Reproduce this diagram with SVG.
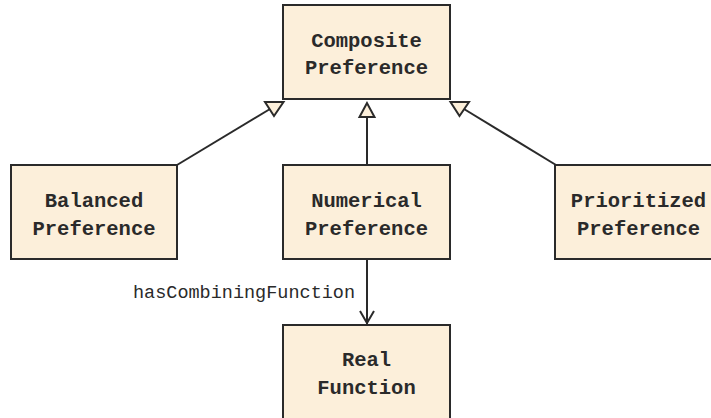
<svg xmlns="http://www.w3.org/2000/svg" width="711" height="418" viewBox="0 0 711 418">
  <style>
    .box { fill: #fcefda; stroke: #2a2a2a; stroke-width: 2; }
    .name { font-family: "Liberation Mono", "DejaVu Sans Mono", monospace; font-weight: bold; font-size: 20.5px; fill: #2a2a2a; text-anchor: middle; }
    .edge { stroke: #2a2a2a; stroke-width: 2; fill: none; }
    .head { fill: #fcefda; stroke: #2a2a2a; stroke-width: 2; stroke-linejoin: miter; }
    .label { font-family: "Liberation Mono", "DejaVu Sans Mono", monospace; font-size: 18.5px; fill: #2a2a2a; }
  </style>
  <rect width="711" height="418" fill="#ffffff"/>

  <g id="connectors">
    <!-- generalisation: Balanced -> Composite -->
    <line class="edge" x1="177" y1="165" x2="270" y2="109"/>
    <polygon class="head" points="265,102 283.5,102 274,116"/>
    <!-- generalisation: Numerical -> Composite -->
    <line class="edge" x1="367" y1="117" x2="367" y2="165"/>
    <polygon class="head" points="367,103 359.5,117 374.5,117"/>
    <!-- generalisation: Prioritized -> Composite -->
    <line class="edge" x1="556" y1="165" x2="464" y2="109"/>
    <polygon class="head" points="450.5,102 469,102 459.5,116"/>
    <!-- association: Numerical -> Real Function -->
    <line class="edge" x1="367" y1="260" x2="367" y2="324"/>
    <polyline class="edge" points="360,311 367,323 374,311"/>
    <text class="label" x="133" y="298">hasCombiningFunction</text>
  </g>

  <g id="composite">
    <rect class="box" x="283" y="5" width="167" height="94"/>
    <text class="name" x="366.5" y="47">Composite</text>
    <text class="name" x="366.5" y="74">Preference</text>
  </g>

  <g id="balanced">
    <rect class="box" x="11" y="165" width="166" height="94"/>
    <text class="name" x="94" y="207">Balanced</text>
    <text class="name" x="94" y="234.5">Preference</text>
  </g>

  <g id="numerical">
    <rect class="box" x="283" y="165" width="167" height="94"/>
    <text class="name" x="366.5" y="207">Numerical</text>
    <text class="name" x="366.5" y="234.5">Preference</text>
  </g>

  <g id="prioritized">
    <rect class="box" x="555" y="165" width="167" height="94"/>
    <text class="name" x="638.5" y="207">Prioritized</text>
    <text class="name" x="638.5" y="234.5">Preference</text>
  </g>

  <g id="real-function">
    <rect class="box" x="283" y="325" width="167" height="96"/>
    <text class="name" x="366.5" y="366">Real</text>
    <text class="name" x="366.5" y="394">Function</text>
  </g>
</svg>
